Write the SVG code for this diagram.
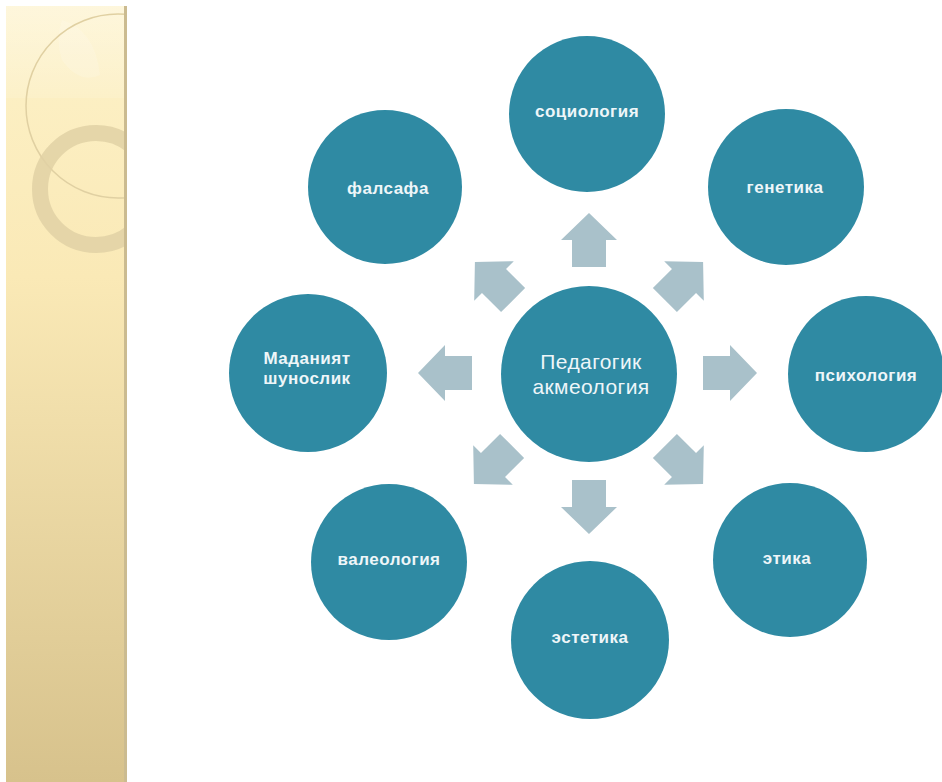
<svg xmlns="http://www.w3.org/2000/svg" width="942" height="782" viewBox="0 0 942 782">
<defs>
<linearGradient id="strip" x1="0" y1="0" x2="0" y2="1">
<stop offset="0" stop-color="#FDF2C9"/>
<stop offset="0.35" stop-color="#FAE9B6"/>
<stop offset="1" stop-color="#D7C28C"/>
</linearGradient>
<linearGradient id="topfade" x1="0" y1="0" x2="0" y2="1">
<stop offset="0" stop-color="#FFFFFF" stop-opacity="0.35"/>
<stop offset="1" stop-color="#FFFFFF" stop-opacity="0.1"/>
</linearGradient>
<clipPath id="stripClip"><rect x="6" y="6" width="120" height="776"/></clipPath>
<path id="arr" d="M-27,-17 L0,-17 L0,-28 L27,0 L0,28 L0,17 L-27,17 Z"/>
<style>
.node{fill:#2F8AA3}
.lbl{fill:#EEF6F9;font-family:"Liberation Sans",Arial,sans-serif;font-weight:bold;font-size:17px;letter-spacing:0.5px;text-anchor:middle;dominant-baseline:central}
.big{font-size:21px;font-weight:normal;letter-spacing:0.4px}
.arrow{fill:#A9C1CA}
</style>
</defs>
<rect width="942" height="782" fill="#FFFFFF"/>
<g id="decor">
<rect x="6" y="6" width="121" height="776" fill="url(#strip)"/>
<g clip-path="url(#stripClip)">
<rect x="6" y="6" width="121" height="92" fill="url(#topfade)"/>
<path d="M62,20 Q95,30 100,75 Q80,85 62,60 Q55,40 62,20 Z" fill="#FFFFFF" opacity="0.15"/>
<circle cx="118" cy="106" r="92" fill="none" stroke="#E0D0A2" stroke-width="1.5"/>
<circle cx="96" cy="189" r="56" fill="none" stroke="#E0D1A4" stroke-width="16" opacity="0.85"/>
</g>
<rect x="124" y="6" width="3" height="776" fill="#CBBB90"/>
</g>
<g id="connectors">
<use href="#arr" class="arrow" transform="translate(589,240) rotate(-90)"/>
<use href="#arr" class="arrow" transform="translate(589,507) rotate(90)"/>
<use href="#arr" class="arrow" transform="translate(445,373) rotate(180)"/>
<use href="#arr" class="arrow" transform="translate(730,373)"/>
<use href="#arr" class="arrow" transform="translate(494,281) rotate(-135)"/>
<use href="#arr" class="arrow" transform="translate(684,281) rotate(-45)"/>
<use href="#arr" class="arrow" transform="translate(493,465) rotate(135)"/>
<use href="#arr" class="arrow" transform="translate(684,465) rotate(45)"/>
</g>
<g id="center"><circle class="node" cx="589" cy="374" r="88"/><text class="lbl big" x="591" y="361">Педагогик</text><text class="lbl big" x="591" y="386">акмеология</text></g>
<g id="sociologiya"><circle class="node" cx="587" cy="114" r="78"/><text class="lbl" x="587" y="111">социология</text></g>
<g id="falsafa"><circle class="node" cx="385" cy="187" r="77"/><text class="lbl" x="388" y="188">фалсафа</text></g>
<g id="genetika"><circle class="node" cx="786" cy="187" r="78"/><text class="lbl" x="785" y="187">генетика</text></g>
<g id="madaniyat"><circle class="node" cx="308" cy="373" r="79"/><text class="lbl" x="307" y="358">Маданият</text><text class="lbl" x="307" y="378">шунослик</text></g>
<g id="psixologiya"><circle class="node" cx="866" cy="374" r="78"/><text class="lbl" x="866" y="375">психология</text></g>
<g id="valeologiya"><circle class="node" cx="389" cy="562" r="78"/><text class="lbl" x="389" y="559">валеология</text></g>
<g id="etika"><circle class="node" cx="790" cy="560" r="77"/><text class="lbl" x="787" y="558">этика</text></g>
<g id="estetika"><circle class="node" cx="590" cy="640" r="79"/><text class="lbl" x="590" y="637">эстетика</text></g>
</svg>
